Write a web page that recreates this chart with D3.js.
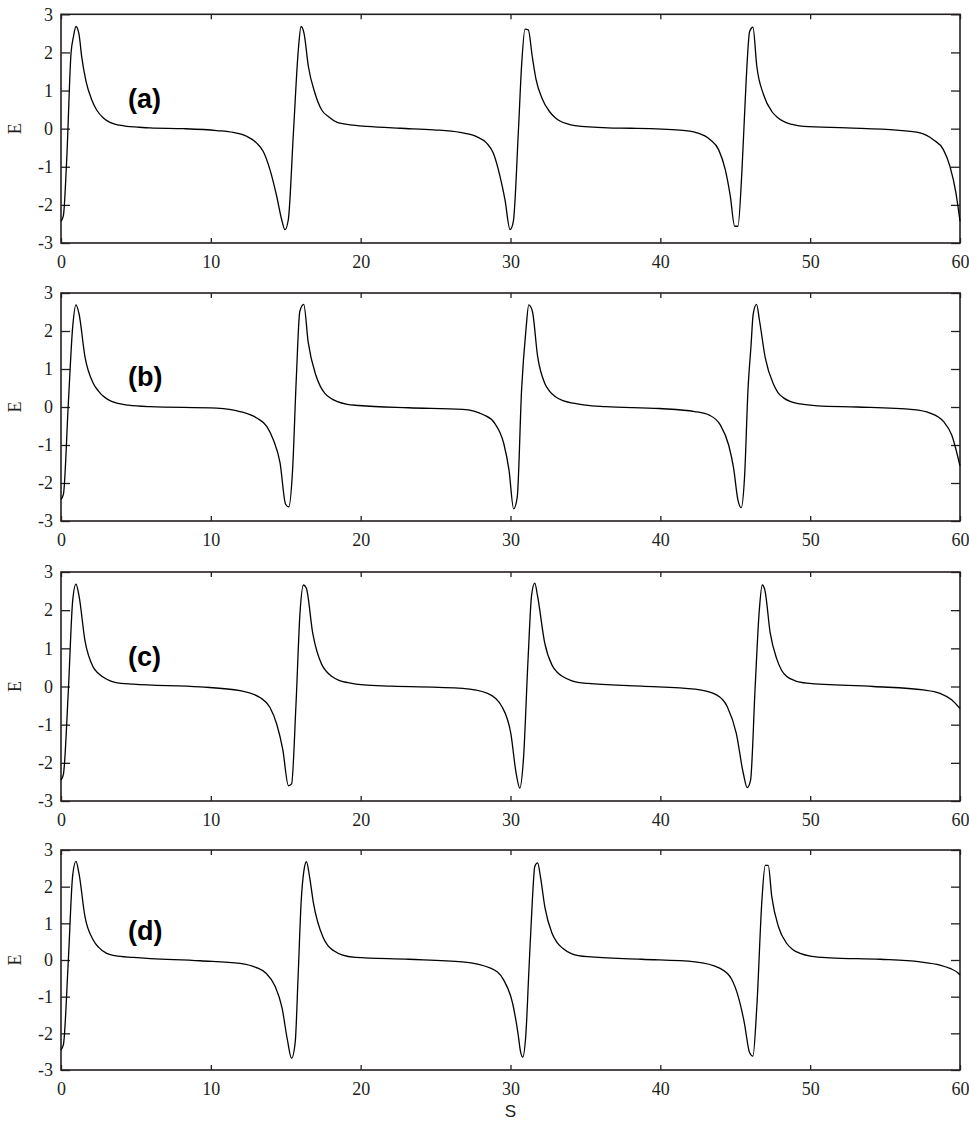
<!DOCTYPE html>
<html>
<head>
<meta charset="utf-8">
<script src="https://cdn.jsdelivr.net/npm/d3@7"></script>
<style>
  body { margin: 0; background: #fff; }
  svg { display: block; }
</style>
</head>
<body>
<svg id="chart" width="969" height="1125"></svg>
<script>
// panel labels and ticks
const PANEL_LABELS = ['(a)', '(b)', '(c)', '(d)'];
const X_TICKS = [0, 10, 20, 30, 40, 50, 60];
const Y_TICKS = [-3, -2, -1, 0, 1, 2, 3];
const X_LABEL = 'S';
const Y_LABEL = 'E';

// E(S), [S, E]
const SERIES_A = [
  [0, -2.43], [0.16, -2.28], [0.38, -0.82], [0.67, 1.98], [0.83, 2.41], [1.0, 2.68], [1.2, 2.48],
  [1.38, 1.89], [1.67, 1.24], [2.05, 0.76], [2.38, 0.49], [2.83, 0.28], [3.15, 0.19], [3.49, 0.13],
  [3.9, 0.09], [4.38, 0.06], [5.1, 0.04], [5.94, 0.02], [8.16, 0.0], [10.39, -0.05], [11.5, -0.1],
  [12.39, -0.2], [13.06, -0.38], [13.5, -0.6], [13.95, -1.08], [14.4, -1.78], [14.73, -2.39],
  [14.95, -2.65], [15.17, -2.39], [15.51, -0.12], [15.84, 2.07], [16.02, 2.68], [16.22, 2.5],
  [16.51, 1.63], [16.95, 0.93], [17.4, 0.49], [17.9, 0.3], [18.4, 0.17], [18.8, 0.13], [19.29, 0.1],
  [20.4, 0.06], [22.63, 0.01], [24.85, -0.03], [26.63, -0.1], [27.74, -0.21], [28.41, -0.38],
  [28.85, -0.64], [29.3, -1.25], [29.63, -1.86], [29.97, -2.65], [30.19, -2.43], [30.52, -0.12],
  [30.75, 1.72], [30.97, 2.61], [31.19, 2.59], [31.45, 1.9], [31.7, 1.3], [32.1, 0.8], [32.6, 0.45],
  [32.95, 0.3], [33.3, 0.2], [33.75, 0.13], [34.3, 0.08], [36.5, 0.02], [38.0, 0.01], [41.33, -0.04],
  [42.44, -0.11], [43.33, -0.29], [43.89, -0.55], [44.33, -1.07], [44.67, -1.77], [44.96, -2.56],
  [45.18, -2.56], [45.44, -1.16], [45.73, 1.28], [45.96, 2.55], [46.18, 2.66], [46.44, 1.63],
  [46.89, 0.89], [47.44, 0.45], [47.8, 0.3], [48.22, 0.19], [48.8, 0.11], [49.56, 0.06], [52.44, 0.02],
  [55.78, -0.04], [57.33, -0.11], [58.22, -0.29], [58.89, -0.55], [59.33, -0.99], [59.73, -1.69],
  [60, -2.43]
];

const SERIES_B = [
  [0, -2.43], [0.16, -2.3], [0.49, 0.1], [0.78, 2.11], [1.0, 2.69], [1.2, 2.46], [1.6, 1.32],
  [2.16, 0.62], [2.5, 0.42], [2.83, 0.28], [3.2, 0.18], [3.72, 0.1], [4.5, 0.05], [5.94, 0.01],
  [10.39, -0.03], [11.95, -0.12], [13.06, -0.29], [13.73, -0.51], [14.17, -0.86], [14.62, -1.47],
  [14.99, -2.56], [15.2, -2.63], [15.45, -1.7], [15.7, 0.71], [15.94, 2.52], [16.2, 2.7], [16.5, 1.7],
  [17.0, 0.85], [17.3, 0.55], [17.61, 0.36], [18.0, 0.23], [18.45, 0.14], [19.1, 0.07], [19.88, 0.04],
  [23.2, -0.02], [26.8, -0.06], [28.23, -0.21], [28.95, -0.43], [29.55, -0.96], [29.9, -1.66],
  [30.21, -2.68], [30.45, -2.37], [30.74, 0.45], [31.03, 2.03], [31.22, 2.69], [31.46, 2.52],
  [31.81, 1.33], [32.29, 0.62], [32.6, 0.42], [33.0, 0.27], [33.5, 0.17], [34.2, 0.1], [35.0, 0.05],
  [36.35, 0.01], [39.93, -0.04], [42.3, -0.12], [43.3, -0.22], [44.0, -0.47], [44.56, -1.0],
  [44.89, -1.61], [45.18, -2.45], [45.4, -2.65], [45.62, -1.85], [45.85, 0.45], [46.05, 1.6],
  [46.2, 2.45], [46.42, 2.7], [46.62, 2.27], [47.0, 1.3], [47.56, 0.59], [47.85, 0.38], [48.22, 0.24],
  [48.7, 0.14], [49.33, 0.08], [50.5, 0.03], [53.11, 0.0], [56.89, -0.07], [58.0, -0.16],
  [58.89, -0.38], [59.44, -0.73], [60, -1.55]
];

const SERIES_C = [
  [0, -2.45], [0.16, -2.3], [0.49, -0.11], [0.78, 2.25], [1.0, 2.68], [1.2, 2.38], [1.6, 1.2],
  [2.16, 0.5], [2.5, 0.34], [3.05, 0.19], [3.6, 0.11], [4.83, 0.06], [9.28, -0.01], [11.95, -0.11],
  [13.28, -0.29], [13.95, -0.55], [14.4, -0.99], [14.8, -1.65], [15.18, -2.6], [15.39, -2.55],
  [15.68, -0.5], [15.95, 1.92], [16.18, 2.66], [16.37, 2.58], [16.8, 1.4], [17.4, 0.58], [17.7, 0.4],
  [18.09, 0.26], [18.55, 0.16], [19.16, 0.1], [20.2, 0.04], [22.03, 0.01], [26.8, -0.05],
  [28.47, -0.18], [29.43, -0.53], [30.02, -1.23], [30.38, -2.28], [30.62, -2.66], [30.86, -1.93],
  [31.17, 0.7], [31.41, 2.4], [31.62, 2.71], [31.81, 2.36], [32.29, 1.13], [32.77, 0.56], [33.1, 0.38],
  [33.48, 0.26], [34.1, 0.15], [35.16, 0.08], [38.74, 0.01], [42.32, -0.07], [43.75, -0.22],
  [44.47, -0.53], [45.07, -1.23], [45.54, -2.28], [45.8, -2.65], [46.02, -2.46], [46.33, 0.0],
  [46.6, 1.97], [46.8, 2.66], [46.98, 2.52], [47.33, 1.41], [47.78, 0.71], [48.1, 0.42], [48.44, 0.26],
  [49.0, 0.15], [49.78, 0.09], [54.22, 0.0], [57.56, -0.09], [58.67, -0.18], [59.44, -0.35],
  [60, -0.58]
];

const SERIES_D = [
  [0, -2.45], [0.16, -2.31], [0.49, 0.0], [0.78, 2.31], [1.0, 2.69], [1.2, 2.36], [1.6, 1.18],
  [2.16, 0.54], [2.5, 0.35], [3.05, 0.18], [3.6, 0.12], [4.83, 0.07], [9.28, -0.02], [11.95, -0.09],
  [13.0, -0.2], [13.68, -0.36], [14.27, -0.7], [14.75, -1.3], [15.11, -2.18], [15.39, -2.68],
  [15.63, -2.25], [15.82, -0.5], [16.03, 1.6], [16.21, 2.43], [16.38, 2.68], [16.59, 2.27],
  [16.85, 1.55], [17.49, 0.62], [17.8, 0.4], [18.21, 0.25], [18.8, 0.13], [19.64, 0.07], [23.22, 0.02],
  [26.8, -0.05], [28.71, -0.23], [29.55, -0.55], [30.14, -1.18], [30.5, -2.0], [30.67, -2.5],
  [30.81, -2.65], [31.03, -2.0], [31.22, -0.36], [31.46, 1.64], [31.62, 2.55], [31.81, 2.65],
  [32.0, 2.27], [32.29, 1.45], [32.77, 0.73], [33.1, 0.48], [33.48, 0.32], [34.1, 0.17], [35.16, 0.09],
  [38.74, 0.02], [42.32, -0.05], [43.99, -0.23], [44.75, -0.52], [45.2, -1.0], [45.6, -1.7],
  [45.96, -2.53], [46.18, -2.62], [46.44, -1.27], [46.78, 1.63], [47.0, 2.58], [47.2, 2.58],
  [47.44, 1.72], [47.89, 0.9], [48.44, 0.45], [48.85, 0.28], [49.33, 0.18], [50.1, 0.1], [51.33, 0.06],
  [54.67, 0.02], [57.33, -0.05], [58.67, -0.14], [59.33, -0.23], [59.89, -0.36], [60, -0.41]
];

const SERIES = [SERIES_A, SERIES_B, SERIES_C, SERIES_D];

// layout
const LEFT = 61, RIGHT = 960;
const PANELS = [
  { top: 14.3, bottom: 243 },
  { top: 293, bottom: 521 },
  { top: 572, bottom: 801 },
  { top: 850, bottom: 1070 }
];
const SERIF = '"Liberation Serif", "Times New Roman", serif';
const SANS = '"Liberation Sans", Arial, sans-serif';
const INK = '#231f20';

const svg = d3.select('#chart');
svg.append('rect').attr('width', 969).attr('height', 1125).attr('fill', '#fff');

const x = d3.scaleLinear().domain([0, 60]).range([LEFT, RIGHT]);
// plain hyphen for negatives, like the original
const fmt = d => String(d);

PANELS.forEach((p, i) => {
  const y = d3.scaleLinear().domain([-3, 3]).range([p.bottom, p.top]);
  const g = svg.append('g').attr('class', 'panel');

  // bottom axis with labels, ticks pointing in
  const bottom = g.append('g')
    .attr('transform', `translate(0,${p.bottom})`)
    .call(d3.axisBottom(x).tickValues(X_TICKS).tickSizeInner(-5).tickSizeOuter(0).tickPadding(12).tickFormat(fmt));
  // top axis, ticks only
  const top = g.append('g')
    .attr('transform', `translate(0,${p.top})`)
    .call(d3.axisTop(x).tickValues(X_TICKS).tickSizeInner(-5).tickSizeOuter(0).tickFormat(''));
  // left axis with labels
  const leftAx = g.append('g')
    .attr('transform', `translate(${LEFT},0)`)
    .call(d3.axisLeft(y).tickValues(Y_TICKS).tickSizeInner(-9).tickSizeOuter(0).tickPadding(8).tickFormat(fmt));
  // right axis, ticks only
  const rightAx = g.append('g')
    .attr('transform', `translate(${RIGHT},0)`)
    .call(d3.axisRight(y).tickValues(Y_TICKS).tickSizeInner(-9).tickSizeOuter(0).tickFormat(''));

  [bottom, top, leftAx, rightAx].forEach(ax => {
    ax.attr('font-family', SERIF).attr('font-size', 18);
    ax.select('.domain').remove();
    ax.selectAll('.tick line').attr('stroke', INK).attr('stroke-width', 1.3);
    ax.selectAll('text').attr('fill', INK);
  });

  // frame
  g.append('rect')
    .attr('x', LEFT).attr('y', p.top)
    .attr('width', RIGHT - LEFT).attr('height', p.bottom - p.top)
    .attr('fill', 'none')
    .attr('stroke', INK)
    .attr('stroke-width', 1.6);

  // the curve
  const line = d3.line()
    .x(d => x(d[0]))
    .y(d => y(d[1]))
    .curve(d3.curveMonotoneX);

  g.append('path')
    .datum(SERIES[i])
    .attr('d', line)
    .attr('fill', 'none')
    .attr('stroke', '#000')
    .attr('stroke-width', 1.3)
    .attr('stroke-linejoin', 'round');

  // panel label
  g.append('text')
    .attr('x', 128)
    .attr('y', y(0.55))
    .attr('fill', '#000')
    .style('font-family', SANS)
    .style('font-weight', 'bold')
    .style('font-size', '27px')
    .text(PANEL_LABELS[i]);

  // y axis title
  g.append('text')
    .attr('transform', `translate(21,${y(0)}) rotate(-90)`)
    .attr('text-anchor', 'middle')
    .attr('fill', INK)
    .style('font-family', SERIF)
    .style('font-size', '18px')
    .text(Y_LABEL);
});

// x axis title, kept clear of the tick labels above it
svg.append('text')
  .attr('x', (LEFT + RIGHT) / 2)
  .attr('y', 1117)
  .attr('text-anchor', 'middle')
  .attr('fill', INK)
  .style('font-family', SANS)
  .style('font-size', '17px')
  .text(X_LABEL);
</script>
</body>
</html>
